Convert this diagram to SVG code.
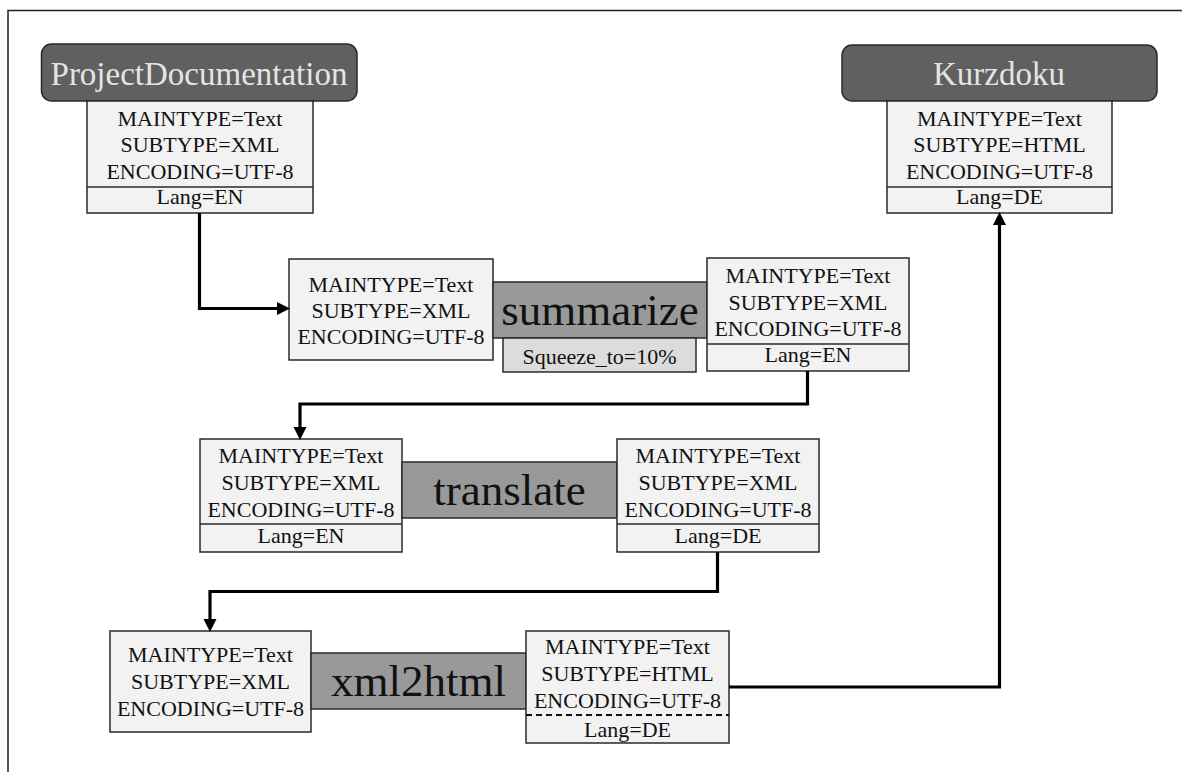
<svg xmlns="http://www.w3.org/2000/svg" width="1182" height="772" viewBox="0 0 1182 772" font-family="Liberation Serif" text-anchor="middle">
<style>
  .hdr { fill: #606060; stroke: #2a2a2a; stroke-width: 1.5; }
  .hdrt { font-size: 33px; fill: #e4e4e4; }
  .box { fill: #f2f2f2; stroke: #2a2a2a; stroke-width: 1.5; }
  .bar { fill: #999999; stroke: #2a2a2a; stroke-width: 1.5; }
  .par { fill: #dcdcdc; stroke: #2a2a2a; stroke-width: 1.5; }
  .div { stroke: #2a2a2a; stroke-width: 1.5; }
  .dash { stroke: #111; stroke-width: 2; stroke-dasharray: 6 4; }
  .t { font-size: 22px; fill: #111; }
  .bt { font-size: 45px; fill: #111; }
  .conn { fill: none; stroke: #000; stroke-width: 3.2; }
</style>
<defs>
  <marker id="arr" markerUnits="userSpaceOnUse" markerWidth="14" markerHeight="14" refX="6" refY="6.5" orient="auto">
    <path d="M0,0 L13,6.5 L0,13 z" fill="#000"/>
  </marker>
</defs>
<rect x="8" y="10.5" width="1200" height="800" fill="none" stroke="#222" stroke-width="1.5"/>

<g id="ProjectDocumentation">
  <rect class="hdr" x="41.5" y="44" width="315.5" height="57" rx="10"/>
  <text class="hdrt" x="199" y="85">ProjectDocumentation</text>
  <rect class="box" x="87" y="101" width="226" height="112"/>
  <line class="div" x1="87" y1="187" x2="313" y2="187"/>
  <text class="t" x="200" y="125.5">MAINTYPE=Text</text>
  <text class="t" x="200" y="152">SUBTYPE=XML</text>
  <text class="t" x="200" y="178.5">ENCODING=UTF-8</text>
  <text class="t" x="200" y="204">Lang=EN</text>
</g>

<g id="Kurzdoku">
  <rect class="hdr" x="842" y="45" width="315" height="56" rx="10"/>
  <text class="hdrt" x="999" y="85">Kurzdoku</text>
  <rect class="box" x="887" y="101" width="225" height="112"/>
  <line class="div" x1="887" y1="187" x2="1112" y2="187"/>
  <text class="t" x="999.5" y="125.5">MAINTYPE=Text</text>
  <text class="t" x="999.5" y="152">SUBTYPE=HTML</text>
  <text class="t" x="999.5" y="178.5">ENCODING=UTF-8</text>
  <text class="t" x="999.5" y="204">Lang=DE</text>
</g>

<g id="summarize">
  <rect class="box" x="289" y="259" width="204" height="101"/>
  <text class="t" x="391" y="292">MAINTYPE=Text</text>
  <text class="t" x="391" y="318">SUBTYPE=XML</text>
  <text class="t" x="391" y="344">ENCODING=UTF-8</text>
  <rect class="bar" x="493" y="282" width="214" height="56"/>
  <text class="bt" x="600" y="325">summarize</text>
  <rect class="par" x="503" y="338" width="193" height="34"/>
  <text class="t" x="599.5" y="364">Squeeze_to=10%</text>
  <rect class="box" x="707" y="258" width="202" height="113"/>
  <line class="div" x1="707" y1="344" x2="909" y2="344"/>
  <text class="t" x="808" y="283">MAINTYPE=Text</text>
  <text class="t" x="808" y="309.5">SUBTYPE=XML</text>
  <text class="t" x="808" y="336">ENCODING=UTF-8</text>
  <text class="t" x="808" y="362">Lang=EN</text>
</g>

<g id="translate">
  <rect class="box" x="200" y="439" width="202" height="113"/>
  <line class="div" x1="200" y1="524" x2="402" y2="524"/>
  <text class="t" x="301" y="463">MAINTYPE=Text</text>
  <text class="t" x="301" y="490">SUBTYPE=XML</text>
  <text class="t" x="301" y="516.5">ENCODING=UTF-8</text>
  <text class="t" x="301" y="543">Lang=EN</text>
  <rect class="bar" x="402" y="462" width="215" height="56"/>
  <text class="bt" x="509.5" y="505">translate</text>
  <rect class="box" x="617" y="439" width="202" height="113"/>
  <line class="div" x1="617" y1="524" x2="819" y2="524"/>
  <text class="t" x="718" y="463">MAINTYPE=Text</text>
  <text class="t" x="718" y="490">SUBTYPE=XML</text>
  <text class="t" x="718" y="516.5">ENCODING=UTF-8</text>
  <text class="t" x="718" y="543">Lang=DE</text>
</g>

<g id="xml2html">
  <rect class="box" x="110" y="631" width="201" height="101"/>
  <text class="t" x="210.5" y="662">MAINTYPE=Text</text>
  <text class="t" x="210.5" y="689">SUBTYPE=XML</text>
  <text class="t" x="210.5" y="716">ENCODING=UTF-8</text>
  <rect class="bar" x="311" y="653" width="215" height="56"/>
  <text class="bt" x="418.5" y="696">xml2html</text>
  <rect class="box" x="526" y="631" width="203" height="112"/>
  <line class="dash" x1="526" y1="715" x2="729" y2="715"/>
  <text class="t" x="627.5" y="654">MAINTYPE=Text</text>
  <text class="t" x="627.5" y="681">SUBTYPE=HTML</text>
  <text class="t" x="627.5" y="708">ENCODING=UTF-8</text>
  <text class="t" x="627.5" y="737">Lang=DE</text>
</g>

<g id="connectors">
  <path class="conn" d="M199.5,213 V308.5 H283" marker-end="url(#arr)"/>
  <path class="conn" d="M807.5,371 V404 H300 V433" marker-end="url(#arr)"/>
  <path class="conn" d="M717.5,552 V591.5 H210 V625" marker-end="url(#arr)"/>
  <path class="conn" d="M729,687 H999.5 V219" marker-end="url(#arr)"/>
</g>
</svg>
